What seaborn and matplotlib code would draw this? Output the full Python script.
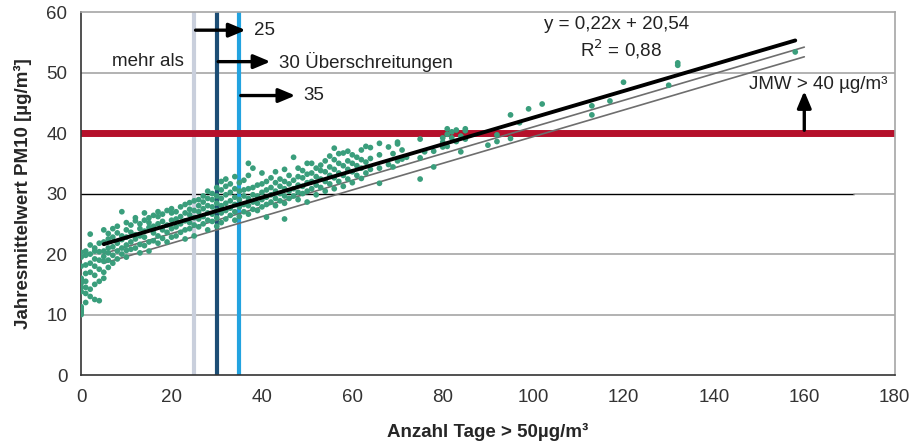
import numpy as np
import pandas as pd
import matplotlib
matplotlib.use("Agg")
import matplotlib.pyplot as plt
import seaborn as sns

# ------------------------------------------------------------
# Data (days > 50 µg/m³ vs. annual mean PM10)
# ------------------------------------------------------------
days = (
    [0] * 14 + [1] * 8 + [2] * 7 + [3] * 7 + [4] * 6 + [5] * 7 + [6] * 6 + [7] * 5
    + [8] * 5 + [9] * 5 + [10] * 6 + [11] * 4 + [12] * 5 + [13] * 5 + [14] * 5
    + [15] * 5 + [16] * 4 + [17] * 5 + [18] * 4 + [19] * 4 + [20] * 5 + [21] * 4
    + [22] * 4 + [23] * 5 + [24] * 5 + [25] * 5 + [26] * 5 + [27] * 5 + [28] * 6
    + [29] * 5 + [30] * 6 + [31] * 6 + [32] * 6 + [33] * 5 + [34] * 6 + [35] * 5
    + [36] * 5 + [37] * 6 + [38] * 5 + [39] * 4 + [40] * 5 + [41] * 5 + [42] * 4
    + [43] * 5 + [44] * 4 + [45] * 6 + [46] * 4 + [47] * 4 + [48] * 5 + [49] * 4
    + [50] * 5 + [51] * 4 + [52] * 4 + [53] * 4 + [54] * 4 + [55] * 4 + [56] * 5
    + [57] * 4 + [58] * 4 + [59] * 4 + [60] * 4 + [61] * 3 + [62] * 4 + [63] * 3
    + [64] * 3 + [66] * 4 + [68] * 2 + [69] * 2 + [70] * 3 + [71] * 2 + [72]
    + [75] * 3 + [76] + [78] * 2 + [80] * 3 + [81] * 3 + [82] * 2 + [83] * 2
    + [84] * 2 + [85] * 3 + [90] + [92] * 2 + [95] * 2 + [97] + [99] + [102]
    + [113] * 2 + [117] + [120] + [130] + [132] * 2 + [158]
)
pm10 = [
    10.0, 10.3, 10.6, 11.0, 10.8, 11.3, 13.8, 14.5, 15.2, 15.8, 16.0, 18.0, 19.5, 20.3,
    12.0, 13.5, 14.5, 15.5, 16.8, 18.2, 19.8, 20.5,
    13.0, 14.2, 17.0, 18.5, 20.0, 21.5, 23.3,
    12.5, 15.0, 16.5, 18.0, 19.2, 20.5, 21.0,
    12.3, 15.5, 17.5, 19.0, 20.4, 21.8,
    16.0, 17.0, 18.8, 19.6, 20.5, 22.0, 24.0,
    17.8, 19.0, 20.2, 21.0, 22.5, 23.4,
    18.5, 19.8, 21.2, 22.8, 24.2,
    19.2, 20.5, 21.8, 23.5, 24.6,
    20.0, 21.0, 22.4, 23.0, 27.0,
    19.5, 20.6, 21.5, 22.8, 24.0, 25.2,
    20.8, 22.0, 23.6, 24.8,
    21.0, 22.5, 23.2, 25.5, 26.0,
    20.2, 21.6, 23.0, 24.2, 25.0,
    21.4, 22.8, 23.8, 25.6, 26.8,
    20.5, 22.0, 24.4, 25.2, 26.0,
    22.2, 23.5, 24.6, 26.4,
    21.8, 23.0, 25.0, 26.2, 27.0,
    22.6, 24.0, 25.4, 26.6,
    22.0, 23.6, 24.8, 27.2,
    22.8, 24.2, 25.6, 26.8, 27.5,
    23.0, 24.5, 25.8, 27.0,
    23.6, 25.0, 26.2, 27.8,
    22.5, 24.0, 25.5, 26.8, 28.2,
    24.2, 25.2, 26.5, 27.4, 28.5,
    23.0, 24.8, 26.0, 27.2, 28.8,
    24.5, 25.8, 27.0, 28.0, 29.0,
    25.0, 26.2, 27.5, 28.6, 29.6,
    24.0, 25.6, 26.8, 28.0, 29.2, 30.4,
    25.4, 26.6, 27.8, 29.0, 30.0,
    24.6, 26.0, 27.2, 28.4, 29.6, 31.0,
    25.2, 26.8, 28.0, 29.2, 30.6, 32.0,
    25.8, 27.2, 28.4, 29.8, 31.2, 32.4,
    26.4, 27.6, 28.8, 30.2, 31.6,
    25.6, 27.0, 28.2, 29.4, 30.8, 32.8,
    26.2, 27.8, 29.0, 30.4, 31.8,
    27.0, 28.2, 29.6, 30.6, 32.2,
    26.6, 28.0, 29.2, 30.8, 33.0, 35.0,
    27.4, 28.6, 29.8, 31.0, 34.2,
    27.2, 28.4, 29.6, 31.4,
    27.8, 29.0, 30.2, 31.6, 33.4,
    26.1, 28.2, 29.4, 30.6, 32.0,
    28.6, 29.8, 31.0, 32.6,
    28.0, 29.2, 30.4, 31.8, 33.6,
    28.8, 30.0, 31.2, 32.4,
    25.8, 28.4, 29.6, 30.8, 32.0, 34.0,
    29.2, 30.4, 31.6, 33.0,
    29.6, 30.8, 32.2, 36.0,
    29.0, 30.2, 31.4, 32.8, 34.2,
    30.0, 31.2, 32.6, 33.8,
    28.6, 30.4, 31.8, 33.2, 35.0,
    30.8, 32.0, 33.4, 35.0,
    29.8, 31.4, 32.8, 34.2,
    31.0, 32.4, 33.8, 34.7,
    30.4, 32.0, 33.6, 35.4,
    31.6, 33.0, 34.4, 36.2,
    30.8, 32.6, 34.0, 35.6, 37.5,
    32.0, 33.4, 35.0, 36.6,
    31.2, 33.0, 34.6, 36.7,
    32.4, 34.0, 35.4, 37.0,
    31.8, 33.6, 35.0, 36.4,
    33.0, 34.6, 36.0,
    32.5, 34.2, 35.6, 37.2,
    33.4, 35.2, 37.8,
    34.0, 35.8, 37.6,
    31.7, 34.2, 36.4, 38.3,
    34.8, 37.7,
    34.4, 36.6,
    35.4, 38.2, 38.5,
    35.7, 37.2,
    36.0,
    32.4, 35.9, 39.0,
    36.9,
    34.4, 37.0,
    37.7, 38.5, 39.2,
    40.7, 39.8, 37.8,
    39.2, 40.2,
    40.5, 38.6,
    36.9, 39.5,
    40.7, 39.0, 40.4,
    38.0,
    38.6, 39.7,
    39.1, 43.0,
    41.7,
    44.0,
    44.8,
    44.5, 43.0,
    45.3,
    48.4,
    47.9,
    51.6, 51.2,
    53.4,
]

# regression line (as printed) and the two parallel reference lines
fit_slope, fit_icpt = 0.22, 20.54
fit_range = [5, 158]
ref_icpts = [19.0, 17.4]
ref_range = [5, 160]

limits_days = [25, 30, 35]
limit_colors = ["#c9cfdc", "#1d4e75", "#22a3e0"]
limit_labels = ["25", "30 Überschreitungen", "35"]
limit_label_y = [57.0, 51.8, 46.2]
arrow_ends = [37.0, 42.5, 48.0]

jmw_limit = 40

df = pd.DataFrame({"days": days, "pm10": pm10})

# ------------------------------------------------------------
# Plot
# ------------------------------------------------------------
sns.set_style("white")
plt.rcParams["font.family"] = ["Liberation Sans", "DejaVu Sans"]

fig = plt.figure(figsize=(9.12, 4.45), dpi=100)
ax = fig.add_axes([0.089, 0.157, 0.892, 0.816])

# horizontal grid
for g in [10, 20, 50]:
    ax.axhline(g, color="#a6a6a6", lw=1.2, zorder=0)
ax.axhline(30, xmin=0, xmax=0.95, color="black", lw=1.0, zorder=0)
ax.axhline(30, xmin=0.95, xmax=1, color="#a6a6a6", lw=1.2, zorder=0)

# vertical limit lines
for xv, col in zip(limits_days, limit_colors):
    ax.axvline(xv, color=col, lw=3, zorder=1)

ax.axhline(jmw_limit, color="#b5102b", lw=5, zorder=1)

sns.scatterplot(data=df, x="days", y="pm10", color="#3a9e7c", s=17,
                edgecolor="none", ax=ax, zorder=3)

xf = np.array(fit_range)
ax.plot(xf, fit_slope * xf + fit_icpt, color="black", lw=2.8, zorder=4)
xr = np.array(ref_range)
for b in ref_icpts:
    ax.plot(xr, fit_slope * xr + b, color="#6e6e6e", lw=1.2, zorder=2)

# arrows for "mehr als 25 / 30 / 35 Überschreitungen"
arrow_style = dict(arrowstyle="-|>,head_length=1.0,head_width=0.42",
                   color="black", lw=2.4)
for xv, yv, xe, lab in zip(limits_days, limit_label_y, arrow_ends, limit_labels):
    ax.annotate("", xy=(xe, yv), xytext=(xv - 0.3, yv),
                arrowprops=arrow_style, zorder=5)
    ax.text(xe + 1.2, yv, lab, fontsize=13.5, va="center", ha="left", color="#222222")
ax.text(14.8, 51.8, "mehr als", fontsize=13.5, va="center", ha="center", color="#222222")

ax.annotate("", xy=(160, 47.4), xytext=(160, jmw_limit),
            arrowprops=arrow_style, zorder=5)
ax.text(178.5, 48.0, "JMW > 40 µg/m³", fontsize=13.5, va="center", ha="right", color="#222222")

ax.text(118.5, 58.0, "y = 0,22x + 20,54", fontsize=13.5, ha="center", va="center", color="#222222")
ax.text(119.5, 53.8, "R$^2$ = 0,88", fontsize=13.5, ha="center", va="center", color="#222222")

ax.set_xlim(0, 180)
ax.set_ylim(0, 60)
ax.set_xticks(np.arange(0, 181, 20))
ax.set_xticks(np.arange(0, 181, 10), minor=True)
ax.set_yticks(np.arange(0, 61, 10))
ax.tick_params(axis="both", labelsize=13.5, labelcolor="#333333")
ax.tick_params(axis="x", which="both", direction="out", length=4, width=1,
               color="#555555", pad=6)
ax.tick_params(axis="y", direction="out", length=4, width=1, color="#555555", pad=6)

ax.set_xlabel("Anzahl Tage > 50µg/m³", fontsize=13.5, fontweight="bold", labelpad=12)
ax.set_ylabel("Jahresmittelwert PM10 [µg/m³]", fontsize=13.5, fontweight="bold", labelpad=10)

for side in ["left", "bottom"]:
    ax.spines[side].set_color("#333333")
    ax.spines[side].set_linewidth(1.2)
for side in ["top", "right"]:
    ax.spines[side].set_color("#a6a6a6")
    ax.spines[side].set_linewidth(1.2)

fig.savefig("out.png", dpi=100)
